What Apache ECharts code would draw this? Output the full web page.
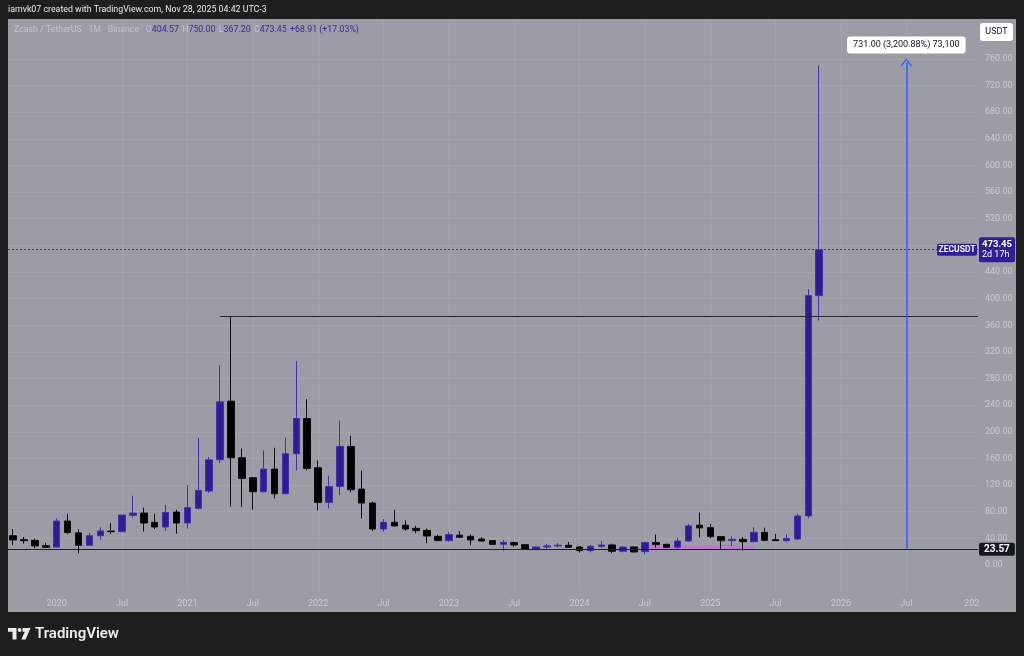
<!DOCTYPE html>
<html><head><meta charset="utf-8">
<script src="https://cdn.jsdelivr.net/npm/echarts@6/dist/echarts.min.js"></script>
<style>html,body{margin:0;padding:0;background:#1e1e1e;}#c{width:1024px;height:656px;}</style>
</head><body><div id="c"></div><script>
// ---- data (ZEC/USDT monthly, Binance) ----
const months = ['2019-09','2019-10','2019-11','2019-12',
 '2020-01','2020-02','2020-03','2020-04','2020-05','2020-06','2020-07','2020-08','2020-09','2020-10','2020-11','2020-12',
 '2021-01','2021-02','2021-03','2021-04','2021-05','2021-06','2021-07','2021-08','2021-09','2021-10','2021-11','2021-12',
 '2022-01','2022-02','2022-03','2022-04','2022-05','2022-06','2022-07','2022-08','2022-09','2022-10','2022-11','2022-12',
 '2023-01','2023-02','2023-03','2023-04','2023-05','2023-06','2023-07','2023-08','2023-09','2023-10','2023-11','2023-12',
 '2024-01','2024-02','2024-03','2024-04','2024-05','2024-06','2024-07','2024-08','2024-09','2024-10','2024-11','2024-12',
 '2025-01','2025-02','2025-03','2025-04','2025-05','2025-06','2025-07','2025-08','2025-09','2025-10','2025-11'];
const open = [44,38,37,29,
 26.8,66,48.2,29.6,44,51,50,74.5,78,64,57,79.5,
 63,85,111,158,246,161,131,110,144,107,167,220,
 146,94,118,178,114,93,54,64,59.7,55,52,43,
 36.6,44.7,43,39,36.6,31,33.6,30.5,24,27,28.6,29.6,
 27,21.6,28,30,20.6,27,20,33.6,31,26.6,36,59.7,
 56,42.6,36.6,38.6,35,49,38,36.5,39,73.7,404.57];
const close = [37.6,36.5,28.6,26.6,
 66,48.6,29.6,44,51,50,75,78,63,57,79,63,
 86,112,158,245,161,130,110,144,107,167,220,145,
 94,118,178,113,93,54,64,58.7,54,51.6,43.6,36.6,
 45.6,41.7,37.6,36,31,34,30,23.6,27,28.6,29.6,26.6,
 21.6,28,30,20.6,27,19.6,33.6,30.6,26.6,36,58.7,55.7,
 42.6,36.6,38.6,35,49,37,36.5,39.6,73.7,404.57,473.45];
const low = [29.6,32,25,25.5,
 26,46.5,17.6,29,38,46.5,49.5,71,50,53.7,51,47,
 54.6,83,108,153,88,87,83,109,100,106,142,142,
 82,85,105,109,70,51,50,58,51.6,47.7,32.7,35.6,
 35,41,29.6,35,30.5,21.5,27.5,22.6,23.5,24,26.6,26,
 18.5,19,25.6,17.6,19,18.6,16,26,25.6,24.5,35,41,
 40,23.6,28.6,21.6,33.6,35.6,36,35,38,70,367.2];
const high = [53.7,42,39.5,33.5,
 70,76.7,53.5,48.5,56.7,63,75.5,104,86,76.7,90,83,
 120,191,162,300,373.5,175,132,172,176,191,306,249,
 157,134,217,194,142,95,69,83,67,58.7,54.6,45.5,
 49.7,50.7,45.6,41.6,37,37.6,35,31,27.6,31.6,32.7,34.6,
 28,30,36,32,28,28,35,45.6,32,41,61.7,78.7,
 61.7,43,43,42,56.7,56,46.6,46,76.7,414,750];

// x tick labels (month index from Jan 2020, step 6)
const xTickValues = [0,6,12,18,24,30,36,42,48,54,60,66,72,78,84];
const xTickLabels = ['2020','Jul','2021','Jul','2022','Jul','2023','Jul','2024','Jul','2025','Jul','2026','Jul','202'];
const yTickValues = [0,40,80,120,160,200,240,280,320,360,400,440,480,520,560,600,640,680,720,760,800];
const hiddenPriceLabels = [480, 800];

// annotations
const supportLevel = 23.57;
const resistLevel = 373.5;
const resistStartIdx = 15;
const lastPrice = 473.45;
const lastPriceTimer = '2d 17h';
const measureIdx = 78;
const measureTop = 754.57;
const measureText = '731.00 (3,200.88%) 73,100';
const highlightBox = [[54.3, 24.0], [64.0, 30.0]];
const headerText = 'iamvk07 created with TradingView.com, Nov 28, 2025 04:42 UTC-3';
const legendName = 'Zcash / TetherUS · 1M · Binance';
const legendOHLC = [['O','404.57'],['H','750.00'],['L','367.20'],['C','473.45']];
const legendChange = '+68.91 (+17.03%)';

// ---- layout ----
const xMin = -4.47, xMax = 84.58;
const yMin = -40, yMax = 817;
const FONT = 'Roboto, "Liberation Sans", Arial, sans-serif';
const PURPLE = '#2f1c94';
const LABEL = '#caccd2';

const monthIdx = months.map(m => { const [y, mo] = m.split('-').map(Number); return (y - 2020) * 12 + (mo - 1); });
const candles = monthIdx.map((x, i) => [x, open[i], close[i], low[i], high[i]]);

const chart = echarts.init(document.getElementById('c'), null, {renderer: 'canvas'});

const option = {
  animation: false,
  backgroundColor: 'transparent',
  grid: {left: 8, right: 46, top: 21, bottom: 64.4, containLabel: false},
  xAxis: {
    type: 'value', min: xMin, max: xMax,
    axisLine: {show: false},
    axisTick: {show: false, customValues: xTickValues},
    splitLine: {show: true, showMinLine: false, showMaxLine: false, lineStyle: {color: 'rgba(255,255,255,0.08)', width: 1}},
    axisLabel: {
      color: LABEL, fontSize: 9, fontFamily: FONT, margin: 8, customValues: xTickValues,
      formatter: v => { const k = xTickValues.indexOf(Math.round(v)); return k >= 0 ? xTickLabels[k] : ''; }
    }
  },
  yAxis: {
    type: 'value', position: 'right', min: yMin, max: yMax,
    axisLine: {show: false},
    axisTick: {show: false, customValues: yTickValues},
    splitLine: {show: true, showMinLine: false, showMaxLine: false, lineStyle: {color: 'rgba(255,255,255,0.08)', width: 1}},
    axisLabel: {
      color: LABEL, fontSize: 9, fontFamily: FONT, margin: 7, customValues: yTickValues,
      formatter: v => (v >= 0 && v <= 760 && hiddenPriceLabels.indexOf(v) < 0) ? v.toFixed(2) : ''
    }
  },
  series: [{
    type: 'candlestick',
    data: candles,
    encode: {x: 0, y: [1, 2, 3, 4]},
    barWidth: 7,
    itemStyle: {color: PURPLE, color0: '#000000', borderColor: '#4232aa', borderColor0: '#0d0d0d', borderWidth: 1},
    markArea: {
      silent: true,
      itemStyle: {color: 'rgba(192,118,212,0.85)'},
      data: [[{coord: highlightBox[0]}, {coord: highlightBox[1]}]]
    },
    markLine: {
      silent: true, symbol: ['none', 'none'], animation: false,
      data: [
        [{coord: [xMin, supportLevel], lineStyle: {color: '#1f2024', width: 1, type: 'solid'},
          label: {show: true, position: 'end', distance: 1, formatter: supportLevel.toFixed(2),
            backgroundColor: '#131722', color: '#ffffff', fontWeight: 'bold', fontSize: 10, fontFamily: FONT,
            padding: [2, 5, 1, 5], borderRadius: 2}},
         {coord: [xMax, supportLevel]}],
        [{coord: [resistStartIdx, resistLevel], lineStyle: {color: '#26272c', width: 1.2, type: 'solid'}, label: {show: false}},
         {coord: [xMax, resistLevel]}],
        [{coord: [xMin, lastPrice], lineStyle: {color: '#3a2ae0', width: 1, type: [2, 2]},
          label: {show: true, position: 'end', distance: 1,
            formatter: '{a|' + lastPrice.toFixed(2) + '}\n{b|' + lastPriceTimer + '}',
            backgroundColor: '#2e1f96', padding: [2, 3, 2, 3], borderRadius: 2,
            rich: {a: {color: '#fff', fontWeight: 'bold', fontSize: 9.5, fontFamily: FONT, lineHeight: 11},
                   b: {color: '#fff', fontSize: 9, fontFamily: FONT, lineHeight: 10}}}},
         {coord: [xMax, lastPrice]}],
        [{coord: [measureIdx, supportLevel], symbol: 'none', lineStyle: {color: '#2962ff', width: 1.5, type: 'solid'},
          label: {show: true, position: 'end', distance: 9, formatter: measureText,
            backgroundColor: '#ffffff', color: '#131722', fontSize: 9, fontFamily: FONT,
            padding: [4, 6, 4, 6], borderRadius: 3}},
         {coord: [measureIdx, measureTop], symbol: 'path://M0,9 L5,0 L10,9 L8.9,9.7 L5,2.4 L1.1,9.7 Z', symbolSize: [12, 8]}]
      ]
    }
  }]
};
chart.setOption(option);

const yLast = chart.convertToPixel({xAxisIndex: 0, yAxisIndex: 0}, [0, lastPrice])[1];

let legendRich = '{g|' + legendName + '}  ';
legendOHLC.forEach(p => { legendRich += '{g|' + p[0] + '}{v|' + p[1] + '} '; });
legendRich += '{v|' + legendChange + '}';
const SMALL = '8.8px ' + FONT;

chart.setOption({
  graphic: [
    {type: 'rect', z: -100, silent: true, shape: {x: 8, y: 19, width: 1008, height: 593}, style: {fill: '#9b9ca5'}},
    {type: 'text', x: 8, y: 10, silent: true, style: {text: headerText, fill: '#e8e8e8', font: SMALL, verticalAlign: 'middle'}},
    {type: 'text', x: 14, y: 30, silent: true, style: {text: legendRich, verticalAlign: 'middle',
      rich: {g: {fill: '#c3c4cb', font: SMALL}, v: {fill: '#3a2a9e', font: SMALL}}}},
    {type: 'rect', z: 50, silent: true, shape: {x: 980, y: 23, width: 33, height: 18, r: 3}, style: {fill: '#ffffff'}},
    {type: 'text', z: 51, silent: true, x: 996.5, y: 32, style: {text: 'USDT', fill: '#131722', font: '9px ' + FONT, align: 'center', verticalAlign: 'middle'}},
    {type: 'rect', z: 50, silent: true, shape: {x: 937, y: yLast - 6, width: 40, height: 12, r: 2}, style: {fill: '#2e1f96'}},
    {type: 'text', z: 51, silent: true, x: 957, y: yLast, style: {text: 'ZECUSDT', fill: '#ffffff', font: 'bold 8.5px ' + FONT, align: 'center', verticalAlign: 'middle'}},
    // TradingView logo
    {type: 'polygon', silent: true, shape: {points: [[8,628],[16.5,628],[16.5,639.5],[12.5,639.5],[12.5,631.8],[8,631.8]]}, style: {fill: '#ececec'}},
    {type: 'circle', silent: true, shape: {cx: 19.6, cy: 630, r: 1.9}, style: {fill: '#ececec'}},
    {type: 'polygon', silent: true, shape: {points: [[22.5,628],[30.5,628],[25.6,639.5],[21.3,639.5],[24.8,631.8],[22.5,631.8]]}, style: {fill: '#ececec'}},
    {type: 'text', silent: true, x: 35, y: 634, style: {text: 'TradingView', fill: '#ececec', font: '600 15px ' + FONT, verticalAlign: 'middle'}}
  ]
});
</script></body></html>
